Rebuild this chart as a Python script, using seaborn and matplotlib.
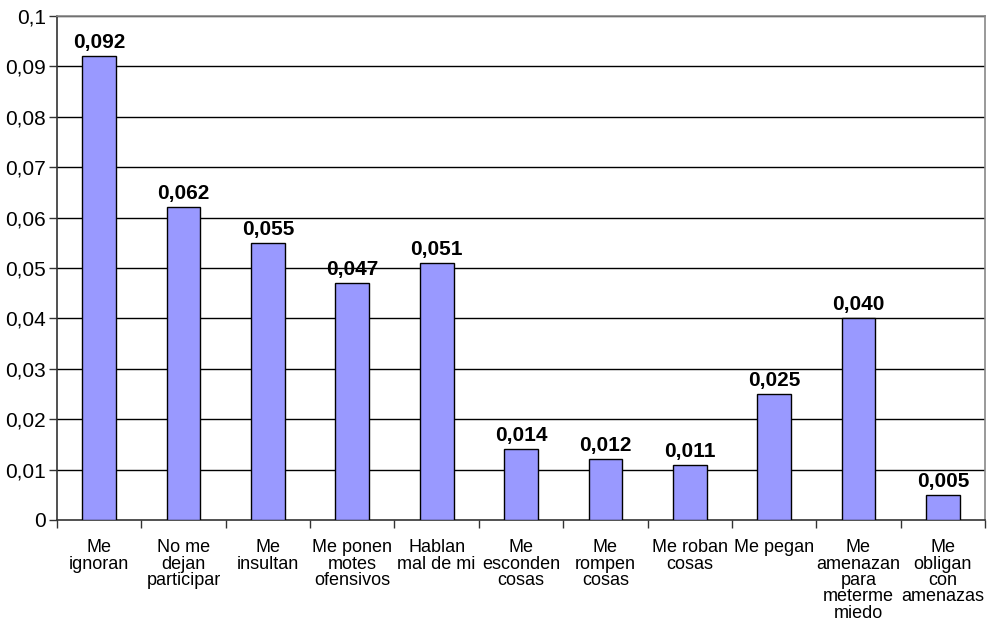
import matplotlib
matplotlib.use('Agg')
import matplotlib.pyplot as plt
import seaborn as sns
import pandas as pd
import numpy as np
from matplotlib.font_manager import fontManager

categories = ['Me\nignoran', 'No me\ndejan\nparticipar', 'Me\ninsultan', 'Me ponen\nmotes\nofensivos',
              'Hablan\nmal de mi', 'Me\nesconden\ncosas', 'Me\nrompen\ncosas', 'Me roban\ncosas',
              'Me pegan', 'Me\namenazan\npara\nmeterme\nmiedo', 'Me\nobligan\ncon\namenazas']
values = [0.092, 0.062, 0.055, 0.047, 0.051, 0.014, 0.012, 0.011, 0.025, 0.040, 0.005]
labels = ['0,092', '0,062', '0,055', '0,047', '0,051', '0,014', '0,012', '0,011', '0,025', '0,040', '0,005']
yticks = [0, 0.01, 0.02, 0.03, 0.04, 0.05, 0.06, 0.07, 0.08, 0.09, 0.1]
ytick_labels = ['0', '0,01', '0,02', '0,03', '0,04', '0,05', '0,06', '0,07', '0,08', '0,09', '0,1']

sns.set_style('white')
names = {f.name for f in fontManager.ttflist}
fam = ['Liberation Sans Narrow'] if 'Liberation Sans Narrow' in names else []
plt.rcParams['font.family'] = fam + ['Liberation Sans', 'DejaVu Sans']
plt.rcParams['text.color'] = 'black'
plt.rcParams['xtick.color'] = 'black'
plt.rcParams['ytick.color'] = 'black'

df = pd.DataFrame({'cat': categories, 'val': values})

fig = plt.figure(figsize=(9.94, 6.37), dpi=100)
ax = fig.add_axes([0.0573, 0.1837, 0.9337, 0.7913])
sns.barplot(data=df, x='cat', y='val', color='#9999FF', saturation=1, width=0.4,
            edgecolor='black', linewidth=1, ax=ax, zorder=3)

ax.set_ylim(0, 0.1)
ax.set_xlim(-0.5, len(categories) - 0.5)
ax.set_yticks(yticks)
ax.set_yticklabels(ytick_labels, fontsize=15, color='black')
for y in yticks[1:]:
    ax.axhline(y, color='black', linewidth=1, zorder=1)

ax.set_xticks(np.arange(len(categories)))
ax.set_xticklabels(categories, fontsize=13, linespacing=0.95, color='black')
ax.tick_params(axis='x', which='major', bottom=True, length=0, pad=14)
ax.set_xticks(np.arange(len(categories) + 1) - 0.5, minor=True)
ax.tick_params(axis='x', which='minor', bottom=True, length=6, width=1, color='#333333', direction='out')
ax.tick_params(axis='y', left=True, length=6, width=1, color='#333333', direction='out', pad=2)
ax.set_xlabel('')
ax.set_ylabel('')

for i, (v, t) in enumerate(zip(values, labels)):
    ax.text(i, v + 0.0008, t, ha='center', va='bottom', fontsize=15, fontweight='bold', color='black')

ax.spines['left'].set_color('#333333')
ax.spines['bottom'].set_color('#333333')
ax.spines['top'].set_color('#888888')
ax.spines['right'].set_color('#888888')
for s in ax.spines.values():
    s.set_linewidth(1.2)

fig.savefig('out.png', dpi=100)
